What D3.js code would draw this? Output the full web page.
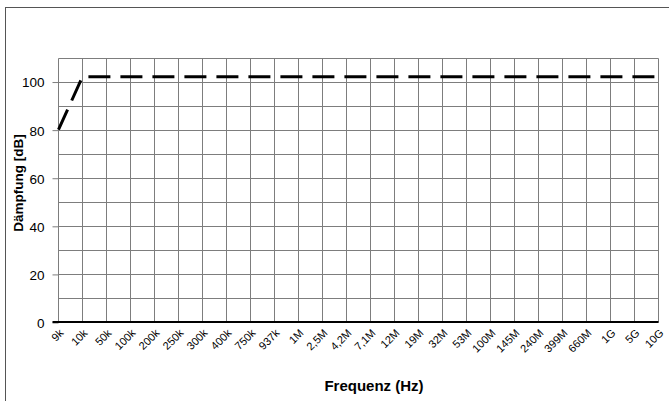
<!DOCTYPE html>
<html>
<head>
<meta charset="utf-8">
<script src="https://cdn.jsdelivr.net/npm/d3@7"></script>
<style>
  body { margin: 0; background: #fff; }
  text { font-family: "Liberation Sans", Arial, sans-serif; fill: #000; }
</style>
</head>
<body>
<div id="viz"></div>
<script>
var frequencies = ["9k", "10k", "50k", "100k", "200k", "250k", "300k", "400k", "750k", "937k",
  "1M", "2,5M", "4,2M", "7,1M", "12M", "19M", "32M", "53M", "100M", "145M",
  "240M", "399M", "660M", "1G", "5G", "10G"];
var attenuation = [80, 102, 102, 102, 102, 102, 102, 102, 102, 102,
  102, 102, 102, 102, 102, 102, 102, 102, 102, 102,
  102, 102, 102, 102, 102, 102];
var yTicks = [0, 20, 40, 60, 80, 100];
var yGrid = [0, 10, 20, 30, 40, 50, 60, 70, 80, 90, 100, 110];

var width = 669,
    height = 401;

var svg = d3.select("#viz").append("svg")
    .attr("width", width)
    .attr("height", height);

// outer frame (runs past the window on the right and bottom)
svg.append("rect")
    .attr("x", 5.5)
    .attr("y", 7.5)
    .attr("width", 720)
    .attr("height", 450)
    .attr("fill", "none")
    .attr("stroke", "#555")
    .attr("stroke-width", 1);

var x = d3.scalePoint()
    .domain(frequencies)
    .range([58.5, 658.5]);

var y = d3.scaleLinear()
    .domain([0, 110])
    .range([322, 57.5]);

// horizontal grid
svg.append("g").selectAll("line")
    .data(yGrid)
  .enter().append("line")
    .attr("x1", x.range()[0])
    .attr("x2", x.range()[1])
    .attr("y1", function(d) { return Math.round(y(d)) + 0.5; })
    .attr("y2", function(d) { return Math.round(y(d)) + 0.5; })
    .attr("stroke", "#7d7d7d")
    .attr("stroke-width", 1);

// vertical grid
svg.append("g").selectAll("line")
    .data(frequencies)
  .enter().append("line")
    .attr("x1", function(d) { return x(d); })
    .attr("x2", function(d) { return x(d); })
    .attr("y1", Math.round(y(110)) + 0.5)
    .attr("y2", y(0))
    .attr("stroke", "#7d7d7d")
    .attr("stroke-width", 1);

// y axis
var yAxis = svg.append("g")
    .attr("transform", "translate(" + x.range()[0] + ",0.5)")
    .call(d3.axisLeft(y).tickValues(yTicks).tickSize(6).tickPadding(8).tickFormat(d3.format("d")));
yAxis.select(".domain").remove();
yAxis.selectAll(".tick line").attr("stroke", "#7d7d7d");
yAxis.selectAll(".tick text")
    .style("font-size", "13.5px")
    .attr("dy", "0.36em");

// x axis line at 0
svg.append("line")
    .attr("x1", x.range()[0] - 6)
    .attr("x2", x.range()[1])
    .attr("y1", y(0))
    .attr("y2", y(0))
    .attr("stroke", "#000")
    .attr("stroke-width", 2);

// x tick labels
svg.append("g").selectAll("text")
    .data(frequencies)
  .enter().append("text")
    .attr("transform", function(d) { return "translate(" + (x(d) + 3) + "," + (y(0) + 9) + ") rotate(-45)"; })
    .attr("text-anchor", "end")
    .attr("dy", "0.35em")
    .style("font-size", "11px")
    .text(function(d) { return d; });

// data line
var line = d3.line()
    .x(function(d, i) { return x(frequencies[i]); })
    .y(function(d) { return y(d); });

svg.append("path")
    .datum(attenuation)
    .attr("d", line)
    .attr("fill", "none")
    .attr("stroke", "#000")
    .attr("stroke-width", 3)
    .attr("stroke-dasharray", "22,10");

// axis titles
svg.append("text")
    .attr("x", 374)
    .attr("y", 391)
    .attr("text-anchor", "middle")
    .style("font-size", "15px")
    .style("font-weight", "bold")
    .text("Frequenz (Hz)");

svg.append("text")
    .attr("transform", "translate(23,183) rotate(-90)")
    .attr("text-anchor", "middle")
    .style("font-size", "13.5px")
    .style("font-weight", "bold")
    .text("Dämpfung [dB]");
</script>
</body>
</html>
